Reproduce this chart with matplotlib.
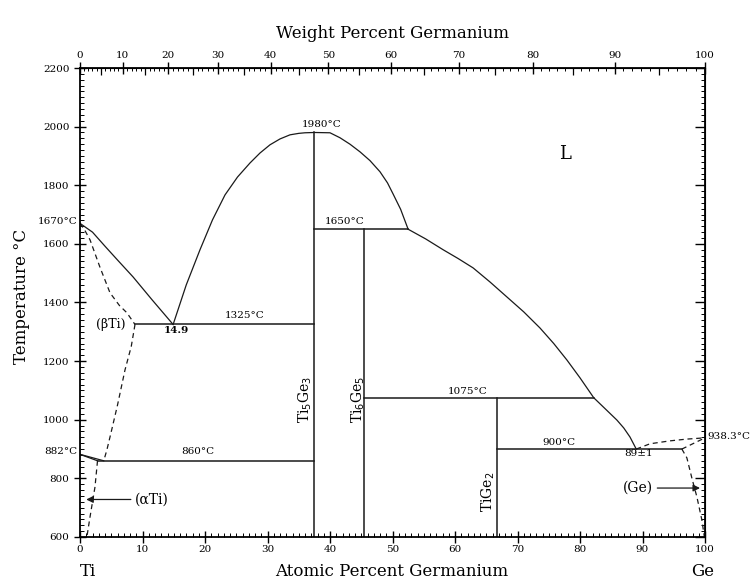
import numpy as np
import matplotlib.pyplot as plt

# atomic masses for the weight-percent scale
M_TI = 47.867
M_GE = 72.63

# liquidus curves (at.% Ge, deg C)
liq_ti_x = [0, 2, 4, 6, 8.5, 11.5, 14.9]
liq_ti_t = [1670, 1640, 1592, 1545, 1487, 1410, 1325]
dome_x = [14.9, 17.0, 19.2, 21.2, 23.2, 25.2, 27.2, 28.8, 30.4, 32.0, 33.6, 35.0, 36.0, 37.5,
          40.0, 41.6, 43.2, 44.8, 46.4, 48.0, 49.2, 50.1, 51.3, 52.5]
dome_t = [1325, 1460, 1580, 1682, 1767, 1828, 1876, 1910, 1938, 1958, 1972, 1977, 1979, 1980,
          1979, 1962, 1940, 1914, 1884, 1846, 1808, 1770, 1718, 1650]
liq_ge_x = [52.5, 55.3, 58.1, 60.5, 62.9, 65.6, 68.3, 71.0, 73.6, 75.8, 77.9, 80.0, 82.2,
            84.1, 85.9, 87.0, 88.0, 89.0]
liq_ge_t = [1650, 1617, 1580, 1550, 1518, 1470, 1419, 1368, 1313, 1260, 1204, 1143, 1075,
            1036, 999, 972, 941, 900]

# dashed boundaries
bti_sol_x = [0, 0.8, 1.6, 3.2, 4.8, 6.3, 7.5, 8.8]
bti_sol_t = [1670, 1645, 1614, 1520, 1433, 1390, 1365, 1325]
bti_solv_x = [8.8, 8.2, 7.2, 6.0, 4.9, 4.3, 3.8]
bti_solv_t = [1325, 1250, 1170, 1050, 950, 897, 860]
ati_solv_x = [2.8, 2.4, 1.6, 1.1]
ati_solv_t = [860, 771, 668, 600]
ge_liq_x = [89.0, 91.2, 94.4, 97.1, 100]
ge_liq_t = [900, 918, 928, 934, 938.3]
ge_sol_x = [96.3, 100]
ge_sol_t = [900, 938.3]
ge_solv_x = [96.3, 97.1, 97.9, 98.7, 99.5, 99.8, 99.9]
ge_solv_t = [900, 870, 801, 737, 658, 614, 600]

# Ti transformation lines from 882 C
ti_tr_x = [[0, 2.8], [0, 3.8]]
ti_tr_t = [[882, 860], [882, 860]]

# compounds: composition, top temperature
comp_x = [37.5, 45.45, 66.67]
comp_top = [1980, 1650, 1075]
comp_names = ['Ti$_5$Ge$_3$', 'Ti$_6$Ge$_5$', 'TiGe$_2$']

# isotherms: temperature, x start, x end
iso_t = [1325, 1650, 1075, 900, 860]
iso_x0 = [8.8, 37.5, 45.45, 66.67, 2.8]
iso_x1 = [37.5, 52.5, 82.2, 96.3, 37.5]


def at2wt(a):
    a = np.asarray(a, dtype=float)
    return a * M_GE / (a * M_GE + (100 - a) * M_TI) * 100


def wt2at(w):
    w = np.asarray(w, dtype=float)
    return (w / M_GE) / (w / M_GE + (100 - w) / M_TI) * 100


serif = 'DejaVu Serif'
col = '#1a1a1a'
lw = 0.9
dash = (0, (4, 3))

fig = plt.figure(figsize=(7.54, 5.83), dpi=100)
ax = fig.add_axes([80 / 754, 46 / 583, 625 / 754, 469 / 583])
ax.set_xlim(0, 100)
ax.set_ylim(600, 2200)

# solid lines
for xs, ts in [(liq_ti_x, liq_ti_t), (dome_x, dome_t), (liq_ge_x, liq_ge_t)]:
    ax.plot(xs, ts, color=col, lw=lw)
for xs, ts in zip(ti_tr_x, ti_tr_t):
    ax.plot(xs, ts, color=col, lw=lw)
for cx, ct in zip(comp_x, comp_top):
    ax.plot([cx, cx], [600, ct], color=col, lw=1.1)
for t, x0, x1 in zip(iso_t, iso_x0, iso_x1):
    ax.plot([x0, x1], [t, t], color=col, lw=1.1)

# dashed lines
for xs, ts in [(bti_sol_x, bti_sol_t), (bti_solv_x, bti_solv_t), (ati_solv_x, ati_solv_t),
               (ge_liq_x, ge_liq_t), (ge_sol_x, ge_sol_t), (ge_solv_x, ge_solv_t)]:
    ax.plot(xs, ts, color=col, lw=lw, linestyle=dash)

# labels inside
fs = 7.5
ax.text(38.7, 2008, '1980°C', fontsize=fs, family=serif, ha='center', va='center')
ax.text(42.4, 1676, '1650°C', fontsize=fs, family=serif, ha='center', va='center')
ax.text(26.4, 1354, '1325°C', fontsize=fs, family=serif, ha='center', va='center')
ax.text(15.4, 1305, '14.9', fontsize=fs, family=serif, ha='center', va='center', weight='bold')
ax.text(62.1, 1097, '1075°C', fontsize=fs, family=serif, ha='center', va='center')
ax.text(76.6, 924, '900°C', fontsize=fs, family=serif, ha='center', va='center')
ax.text(89.3, 885, '89±1', fontsize=fs, family=serif, ha='center', va='center')
ax.text(18.9, 890, '860°C', fontsize=fs, family=serif, ha='center', va='center')
ax.text(77.6, 1905, 'L', fontsize=13, family=serif, ha='center', va='center')
ax.text(7.3, 1326, '(βTi)', fontsize=9, family=serif, ha='right', va='center')
ax.text(-0.4, 1675, '1670°C', fontsize=fs, family=serif, ha='right', va='center', clip_on=False)
ax.text(-0.4, 890, '882°C', fontsize=fs, family=serif, ha='right', va='center', clip_on=False)
ax.text(100.4, 942, '938.3°C', fontsize=fs, family=serif, ha='left', va='center', clip_on=False)

ax.annotate('(αTi)', xy=(1.0, 728), xytext=(8.8, 728), fontsize=10, family=serif,
            ha='left', va='center',
            arrowprops=dict(arrowstyle='-|>', color=col, lw=0.9, shrinkA=1, shrinkB=0))
ax.annotate('(Ge)', xy=(99.2, 767), xytext=(91.7, 767), fontsize=10, family=serif,
            ha='right', va='center',
            arrowprops=dict(arrowstyle='-|>', color=col, lw=0.9, shrinkA=1, shrinkB=0))

# compound labels
ax.text(36.0, 1070, comp_names[0], rotation=90, fontsize=10, family=serif, ha='center', va='center')
ax.text(44.6, 1070, comp_names[1], rotation=90, fontsize=10, family=serif, ha='center', va='center')
ax.text(65.3, 755, comp_names[2], rotation=90, fontsize=10, family=serif, ha='center', va='center')

# bottom axis
ax.set_xticks(np.arange(0, 101, 10))
ax.set_xticks(np.arange(0, 101, 1), minor=True)
ax.set_yticks(np.arange(600, 2201, 200))
ax.set_yticks(np.arange(600, 2201, 20), minor=True)
ax.tick_params(axis='both', which='major', direction='inout', length=8, width=1.0,
               labelsize=7.5, top=False, right=False)
ax.tick_params(axis='both', which='minor', direction='in', length=3, width=0.7,
               top=False, right=False)
ax.tick_params(axis='x', which='major', pad=2)
for lab in ax.get_xticklabels() + ax.get_yticklabels():
    lab.set_family(serif)
for sp in ax.spines.values():
    sp.set_linewidth(1.3)

# right axis
ra = ax.secondary_yaxis('right')
ra.set_yticks(np.arange(600, 2201, 200))
ra.set_yticks(np.arange(600, 2201, 20), minor=True)
ra.tick_params(which='major', direction='in', length=7, width=1.0, labelright=False)
ra.tick_params(which='minor', direction='in', length=3, width=0.7)

# top axis in weight percent
ta = ax.secondary_xaxis('top', functions=(at2wt, wt2at))
ta.set_xticks(np.arange(0, 101, 10))
ta.set_xticks(np.arange(0, 101, 1), minor=True)
ta.tick_params(which='major', direction='inout', length=8, width=1.0, labelsize=7.5, pad=2)
ta.tick_params(which='minor', direction='in', length=2.5, width=0.7)
for lab in ta.get_xticklabels():
    lab.set_family(serif)
ta2 = ax.secondary_xaxis('top', functions=(at2wt, wt2at))
ta2.set_xticks(np.arange(5, 100, 10))
ta2.tick_params(which='major', direction='in', length=5, width=0.9, labeltop=False)
ta2.tick_params(which='minor', length=0)
ta2.spines['top'].set_visible(False)

# axis titles
fig.text(392 / 754, 1 - 33 / 583, 'Weight Percent Germanium', fontsize=12, family=serif,
         ha='center', va='center')
fig.text(392 / 754, 1 - 571 / 583, 'Atomic Percent Germanium', fontsize=12, family=serif,
         ha='center', va='center')
fig.text(22 / 754, 1 - 296 / 583, 'Temperature °C', fontsize=12, family=serif,
         ha='center', va='center', rotation=90)
fig.text(88 / 754, 1 - 572 / 583, 'Ti', fontsize=12, family=serif, ha='center', va='center')
fig.text(703 / 754, 1 - 572 / 583, 'Ge', fontsize=12, family=serif, ha='center', va='center')

fig.savefig('out.png', dpi=100)
